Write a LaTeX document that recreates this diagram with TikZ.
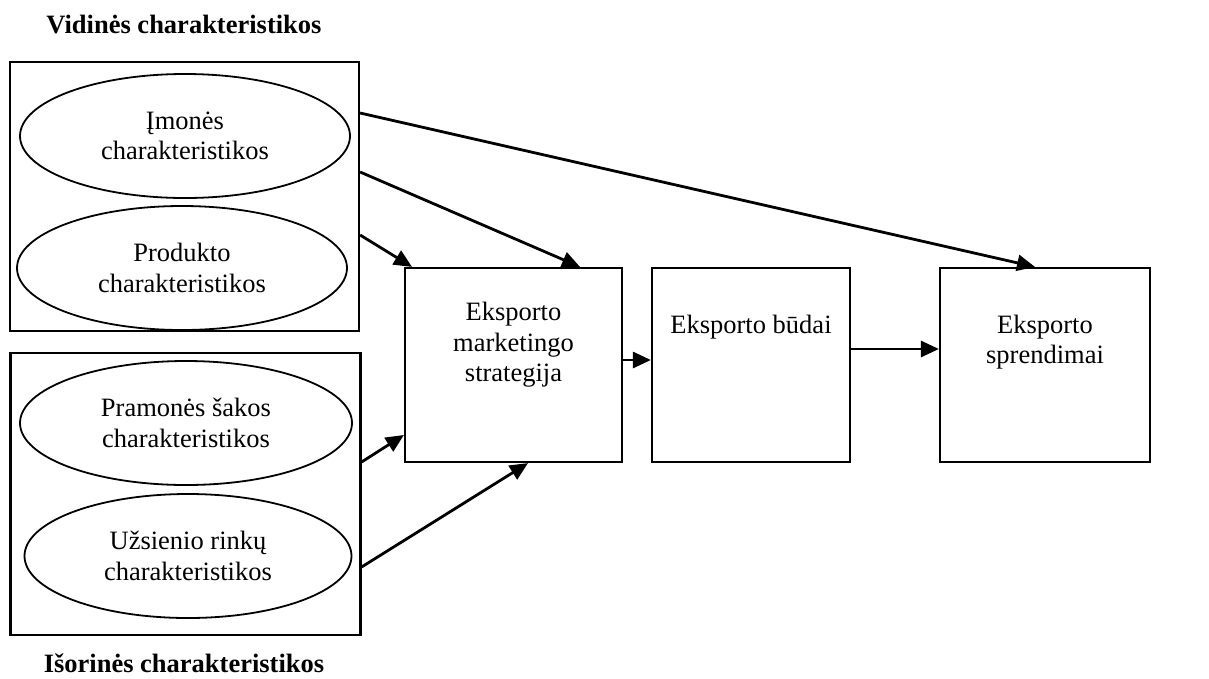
\documentclass[tikz,border=0pt]{standalone}
\usepackage{fontspec}
\setmainfont{Liberation Serif}
\usetikzlibrary{shapes.geometric,arrows.meta}
\begin{document}
\begin{tikzpicture}[x=1pt,y=-1pt,
  every node/.style={font=\fontsize{26.5}{30.5}\selectfont},
  frame/.style={draw,line width=2.2pt,inner sep=0pt},
  oval/.style={ellipse,draw,line width=1.8pt,inner sep=0pt,minimum width=330pt,minimum height=124pt,align=center},
  box/.style={draw,line width=2.2pt,inner sep=0pt,minimum height=194pt},
  lbl/.style={align=center,inner sep=0pt},
  ttl/.style={font=\fontsize{26.5}{30.5}\selectfont\bfseries,inner sep=0pt},
  arr/.style={line width=2.8pt,-{Triangle[length=18pt,width=16pt]}}]
\useasboundingbox (0,0) rectangle (1209,678);
% group frames
\node[frame,minimum width=349pt,minimum height=269pt] (topbox) at (184.5,196.5) {};
\node[frame,minimum width=350pt,minimum height=282pt] (botbox) at (185.5,494) {};
% ellipses
\node[oval] (imon) at (185,136) {Įmonės\\charakteristikos};
\node[oval] (prod) at (182,268) {Produkto\\charakteristikos};
\node[oval,minimum width=332pt] (pram) at (186,423) {Pramonės šakos\\charakteristikos};
\node[oval,minimum width=327pt] (uzs) at (188,556) {Užsienio rinkų\\charakteristikos};
% titles
\node[ttl] (vid) at (184,25) {Vidinės charakteristikos};
\node[ttl] (isor) at (184,663) {Išorinės charakteristikos};
% main boxes
\node[box,minimum width=217pt] (strat) at (513.5,365) {};
\node[box,minimum width=198pt] (budai) at (751,365) {};
\node[box,minimum width=210pt] (sprend) at (1045,365) {};
\node[lbl] (stratT) at (513.5,345) {Eksporto\\marketingo\\strategija};
\node[lbl] (budaiT) at (751,327) {Eksporto būdai};
\node[lbl] (sprendT) at (1045,342) {Eksporto\\sprendimai};
% connectors
\draw[arr] (topbox.east |- 0,113) -- (sprend.north -| 1035,0);
\draw[arr] (topbox.east |- 0,172) -- (strat.north -| 580,0);
\draw[arr] (topbox.east |- 0,235) -- (strat.north -| 412,0);
\draw[arr] (botbox.east |- 0,462) -- (strat.west |- 0,435);
\draw[arr] (botbox.east |- 0,567) -- (strat.south -| 528,0);
\draw[arr] (strat.east |- 0,360) -- (budai.west |- 0,360);
\draw[arr] (budai.east |- 0,349) -- (sprend.west |- 0,349);
\end{tikzpicture}
\end{document}
